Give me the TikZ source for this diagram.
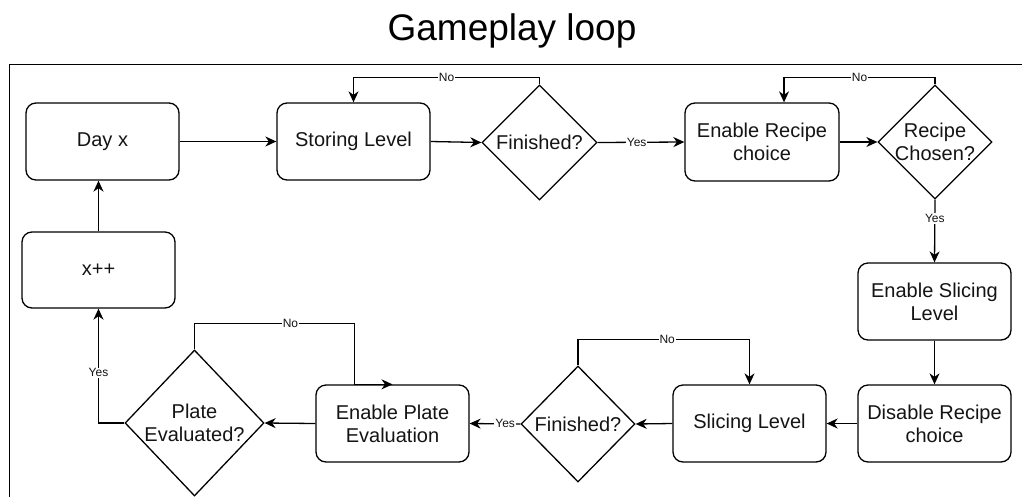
\documentclass[tikz,border=0pt]{standalone}
\usepackage{fontspec}
\setmainfont{Liberation Sans}
\usetikzlibrary{shapes.geometric,arrows.meta}
\begin{document}
\begin{tikzpicture}[x=1pt,y=-1pt,
  every node/.style={font=\fontsize{20}{23}\selectfont, align=center, text=black!92},
  box/.style={draw, line width=1.3pt, rounded corners=10pt, minimum width=153pt, minimum height=77pt, inner sep=0pt},
  dia/.style={draw, diamond, line width=1.3pt, inner sep=0pt},
  arr/.style={line width=1.3pt, -{Stealth[length=11pt,width=10pt,inset=3.5pt]}},
  lbl/.style={fill=white, inner sep=1pt, font=\fontsize{12}{14}\selectfont}]
\useasboundingbox (0,0) rectangle (1022,496);
% title and outer frame
\node[anchor=base, font=\fontsize{37}{40}\selectfont, text=black] (title) at (512,40) {Gameplay loop};
\draw[line width=1.3pt] (1040,64.5) -- (9.5,64.5) -- (9.5,510);
% process boxes
\node[box] (day) at (102.5,141.5) {Day x};
\node[box] (store) at (353.5,141.5) {Storing Level};
\node[box, minimum width=154pt, minimum height=78pt] (recipe) at (762,142) {Enable Recipe\\choice};
\node[box] (ens) at (934.5,301.5) {Enable Slicing\\Level};
\node[box] (dis) at (934.5,423.5) {Disable Recipe\\choice};
\node[box] (slice) at (749.5,423.5) {Slicing Level};
\node[box] (plate) at (392.5,423.5) {Enable Plate\\Evaluation};
\node[box, minimum height=76pt] (xpp) at (98.5,270) {x++};
% decisions
\node[dia, minimum width=115pt, minimum height=115pt, label={center:Finished?}] (f1) at (539.5,142.5) {};
\node[dia, minimum width=114pt, minimum height=114pt, label={[align=center]center:Recipe\\Chosen?}] (rc) at (935,142) {};
\node[dia, minimum width=114pt, minimum height=116pt, label={center:Finished?}] (f2) at (578,424) {};
\node[dia, minimum width=139pt, minimum height=146pt, label={[align=center]center:Plate\\Evaluated?}] (pe) at (194.5,423) {};
% connectors
\draw[arr] (xpp.north) -- (xpp.north |- day.south);
\draw[arr] (day.east) -- (store.west);
\draw[arr] (store.east) -- (f1.west);
\draw[arr] (f1.north) -- ++(0,-7) -| node[lbl, pos=0.25] {No} (store.north);
\draw[arr] (f1.east) -- node[lbl, pos=0.45] {Yes} (recipe.west);
\draw[arr] (recipe.east) -- (rc.west);
\draw[arr] (rc.north) -- ++(0,-7) -| node[lbl, pos=0.25] {No} ([xshift=22pt]recipe.north);
\draw[arr] (rc.south) -- node[lbl, pos=0.3] {Yes} (ens.north);
\draw[arr] (ens.south) -- (dis.north);
\draw[arr] (dis.west) -- (slice.east);
\draw[arr] (slice.west) -- (f2.east);
\draw[arr] (f2.north) -- ++(0,-26) -| node[lbl, pos=0.26] {No} (slice.north);
\draw[arr] (f2.west) -- node[lbl, pos=0.3] {Yes} (plate.east);
\draw[arr] (plate.west) -- (pe.east);
\draw[arr] (pe.north) -- ++(0,-26) -| node[lbl, pos=0.3] {No} ([xshift=-38pt]plate.north) -- (plate.north);
\draw[arr] (pe.west) -| node[lbl, pos=0.72] {Yes} (xpp.south);
\end{tikzpicture}
\end{document}
